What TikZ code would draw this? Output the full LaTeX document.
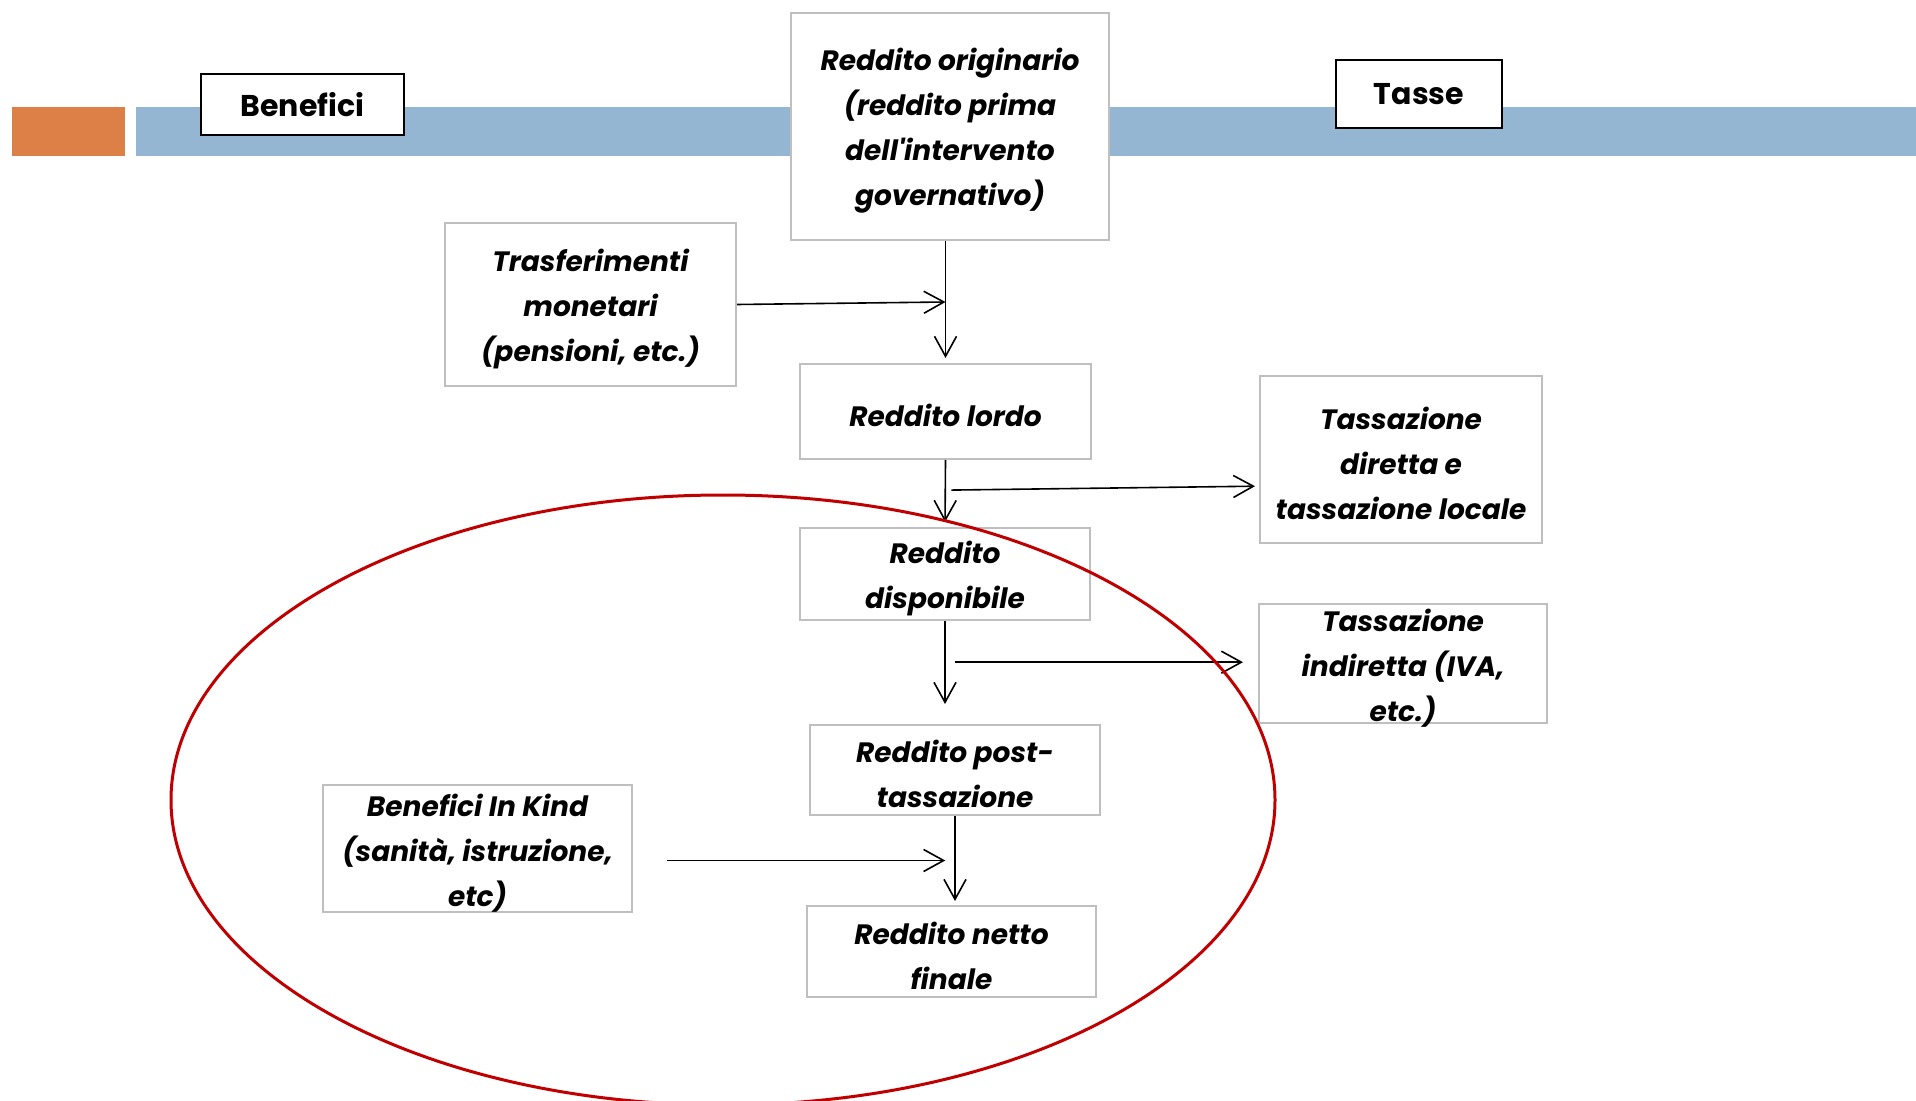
\documentclass[tikz,border=0pt]{standalone}
\usepackage{fontspec}
\setmainfont{Poppins}
\usetikzlibrary{arrows.meta,calc}
\definecolor{barorange}{HTML}{DD8047}
\definecolor{barblue}{HTML}{94B6D2}
\definecolor{boxgray}{HTML}{BFBFBF}
\definecolor{ringred}{HTML}{C00000}
\newcommand{\toppad}{\rule{0pt}{15.5pt}}
\tikzset{
  flowbox/.style={draw=boxgray, line width=1pt, fill=white, align=center, inner sep=0pt,
    font=\fontsize{14}{22.5}\selectfont\bfseries\itshape},
  headbox/.style={draw=black, line width=1.3pt, fill=white, inner sep=0pt,
    font=\fontsize{15}{18}\selectfont\bfseries},
  flow/.style={-{Straight Barb[length=10pt,width=11pt]}, line width=0.8pt},
}
\begin{document}
\begin{tikzpicture}[x=0.5pt,y=-0.5pt]
\useasboundingbox (0,0) rectangle (1916,1101);
\fill[white] (0,0) rectangle (1916,1101);
\fill[barorange] (12,107) rectangle (125,156);
\fill[barblue] (136,107) rectangle (1916,156);
\node[headbox, minimum width=101.5pt, minimum height=30.5pt] (benefici) at (302.5,104.5) {Benefici};
\node[headbox, minimum width=83pt, minimum height=34pt] (tasse) at (1419,94) {Tasse};
\node[flowbox, minimum width=159pt, minimum height=113.5pt] (orig) at (950,126.5)
  {\toppad Reddito originario\\(reddito prima\\dell\textquotesingle intervento\\governativo)};
\node[flowbox, minimum width=145.5pt, minimum height=81.5pt] (trasf) at (590.5,304.5)
  {\toppad Trasferimenti\\monetari\\(pensioni, etc.)};
\node[flowbox, minimum width=145.5pt, minimum height=47.5pt] (lordo) at (945.5,411.5)
  {\toppad Reddito lordo};
\node[flowbox, minimum width=141pt, minimum height=83.5pt] (diretta) at (1401,459.5)
  {\toppad Tassazione\\diretta e\\tassazione locale};
\node[flowbox, minimum width=145pt, minimum height=46pt] (disp) at (945,574)
  {\toppad Reddito\\disponibile};
\node[flowbox, inner ysep=-2.5pt, minimum width=144pt, minimum height=59.5pt] (indiretta) at (1403,663.5)
  {\toppad Tassazione\\indiretta (IVA,\\etc.)};
\node[flowbox, minimum width=145pt, minimum height=45pt] (post) at (955,770)
  {\toppad Reddito post-\\tassazione};
\node[flowbox, minimum width=154.5pt, minimum height=63.5pt] (inkind) at (477.5,848.5)
  {\toppad Benefici In Kind\\(sanità, istruzione,\\etc)};
\node[flowbox, minimum width=144.5pt, minimum height=45.5pt] (netto) at (951.5,951.5)
  {\toppad Reddito netto\\finale};
\coordinate (m1) at ($(orig.south -| lordo.north)!.5!(lordo.north)$);
\coordinate (m2) at ($(lordo.south)!.45!(disp.north)$);
\coordinate (m3) at ($(disp.south)!.4!(post.north)$);
\coordinate (m4) at ($(post.south)!.5!(netto.north)$);
\draw[flow, shorten >=2.5pt] (orig.south -| lordo.north) -- (lordo.north);
\draw[flow] (trasf.east) -- (m1);
\draw[flow, shorten >=2.5pt] (lordo.south) -- (disp.north);
\draw[flow, shorten <=3pt, shorten >=2pt] (m2) -- ($(diretta.west |- m2)+(0,-4)$);
\draw[flow, shorten >=10pt] (disp.south) -- (disp.south |- post.north);
\draw[flow, shorten <=3pt, shorten >=7.5pt] (m3) -- (indiretta.west |- m3);
\draw[flow, shorten >=2pt] (post.south) -- (post.south |- netto.north);
\draw[flow, shorten <=17pt, shorten >=4pt] (inkind.east |- m4) -- (m4);
\draw[ringred, line width=1.5pt] (723,800) ellipse [x radius=552, y radius=305];
\end{tikzpicture}
\end{document}
